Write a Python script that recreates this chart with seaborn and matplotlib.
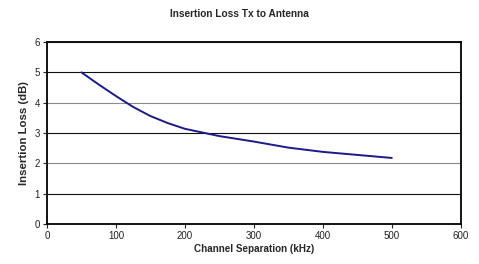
import matplotlib
matplotlib.use("Agg")
import matplotlib.pyplot as plt
import seaborn as sns
import pandas as pd

channel_khz = [50, 75, 100, 125, 150, 175, 200, 250, 300, 350, 400, 450, 500]
loss_db = [5.0, 4.6, 4.22, 3.86, 3.56, 3.33, 3.14, 2.9, 2.72, 2.52, 2.38, 2.28, 2.18]
x_ticks = [0, 100, 200, 300, 400, 500, 600]
y_ticks = [0, 1, 2, 3, 4, 5, 6]

sns.set_theme(style="white")
plt.rcParams['font.family'] = ['Liberation Sans', 'DejaVu Sans']

df = pd.DataFrame({"x": channel_khz, "y": loss_db})
fig = plt.figure(figsize=(4.79, 2.64), dpi=100)
ax = fig.add_axes([0.098, 0.151, 0.864, 0.690])
sns.lineplot(data=df, x="x", y="y", ax=ax, color="#1a1a8c", linewidth=1.4)

ax.set_xlim(0, 600)
ax.set_ylim(0, 6)
ax.set_xticks(x_ticks)
ax.set_yticks(y_ticks)
ax.tick_params(axis="both", labelsize=7, length=3, width=0.8, direction="out",
               bottom=True, left=True, pad=2, colors="#222222")
ax.yaxis.grid(True, linewidth=0.8)
for i, gl in enumerate(ax.get_ygridlines()):
    gl.set_color("#111111" if i % 2 == 1 else "#8a8a8a")
ax.set_axisbelow(True)
for s in ax.spines.values():
    s.set_color("black")
    s.set_linewidth(1.3)
ax.set_xlabel("Channel Separation (kHz)", fontsize=7.1, fontweight="bold", labelpad=2)
ax.set_ylabel("Insertion Loss (dB)", fontsize=8.2, fontweight="bold", labelpad=4)
fig.suptitle("Insertion Loss Tx to Antenna", fontsize=7.3, fontweight="bold", y=0.965)
fig.savefig("out.png", dpi=100)
